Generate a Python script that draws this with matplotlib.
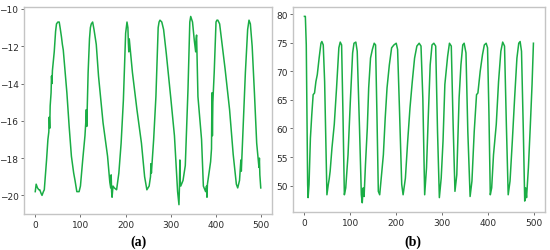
import numpy as np
import matplotlib
matplotlib.use("Agg")
import matplotlib.pyplot as plt

# (a) series, values
xa = [0, 2, 5, 8, 10, 13, 15, 18, 20, 25, 28, 30, 31, 32, 33, 35, 36, 37, 38, 42, 45, 47, 50, 53, 55, 58, 60, 62,
      70, 75, 80, 85, 88, 92, 97, 100, 105, 110, 112, 113, 114, 117, 120, 122, 124, 127, 130, 135, 140, 150, 160,
      165, 167, 168, 169, 170, 172, 175, 180, 185, 190, 195, 200, 203, 205, 206, 207, 208, 215, 225, 235,
      242, 247, 252, 255, 256, 257, 262, 267, 272, 274, 276, 280, 284, 290, 300, 308, 315, 318, 319, 320, 321,
      322, 327, 332, 338, 342, 344, 348, 352, 355, 356, 357, 358, 360, 368, 372, 377, 379, 380, 381, 384,
      388, 390, 391, 392, 393, 396, 400, 402, 404, 408, 412, 420, 430, 438, 445, 448, 452, 454, 455, 456, 460,
      465, 470, 473, 476, 480, 485, 490, 495, 496, 497, 499]
ya = [-19.8, -19.4, -19.6, -19.7, -19.7, -19.9, -20.0, -19.8, -19.7, -18.1, -17.0, -16.6, -15.8, -16.4, -15.2,
      -14.5, -13.6, -14.0, -13.3, -12.3, -11.2, -10.8, -10.7, -10.7, -11.0, -11.5, -11.9, -12.2,
      -14.5, -16.3, -17.9, -18.8, -19.2, -19.8, -19.8, -19.5, -18.1, -16.8, -16.0, -15.4, -16.3, -13.4,
      -11.6, -11.0, -10.8, -10.7, -11.1, -11.9, -13.6, -16.1, -17.9,
      -19.3, -19.6, -18.9, -19.8, -20.1, -19.5, -19.6, -19.7, -18.8, -17.2, -14.9, -11.3, -10.7, -11.0,
      -11.8, -12.3, -11.6, -13.4, -15.4, -17.2,
      -19.0, -19.7, -19.5, -19.0, -18.3, -18.8, -17.0, -14.7, -11.0, -10.7, -10.6, -10.7, -11.1, -12.4, -14.8,
      -16.8, -19.8, -20.5, -19.6, -18.1, -19.3,
      -19.5, -19.2, -18.4, -14.3, -10.7, -10.4, -10.7, -11.7, -12.3, -11.6, -11.4, -12.5, -14.7, -17.0,
      -19.5, -19.8, -19.5, -20.1, -19.4, -18.9,
      -18.2, -17.5, -14.5, -16.8, -15.0, -13.4, -10.7, -10.6, -10.6, -10.8, -11.6, -13.2, -15.4, -17.8, -19.4,
      -19.6, -19.2, -18.5, -18.1, -18.7, -16.4,
      -13.4, -11.1, -10.6, -10.8, -12.0, -14.5, -17.2, -18.5, -18.0, -18.9, -19.6]

# (b) series
xb = [0, 2, 4, 7, 8, 10, 13, 16, 19, 22, 25, 28, 32, 36, 38, 41, 44, 47, 49, 52, 54, 56, 60, 65, 70, 75, 78,
      81, 84, 87, 90, 95, 100, 105, 108, 112, 115, 120, 124, 126, 128, 130, 133, 137, 140, 144, 148, 152,
      155, 158, 161, 164, 168, 172, 176, 180, 185, 190, 195, 200, 203, 207, 212, 215, 220, 225, 230, 235,
      240, 245, 250, 254, 258, 262, 266, 270, 274, 278, 282, 286, 290, 294, 298, 302, 306, 312, 316, 320,
      324, 328, 332, 337, 341, 345, 348, 352, 356, 361, 365, 370, 375, 378, 383, 388, 392, 396, 399, 402,
      405, 408, 412, 418, 423, 428, 432, 436, 440, 444, 448, 453, 458, 463, 467, 470, 473, 477, 480, 482,
      484, 488, 492, 496, 499]
yb = [79.6, 79.6, 74.6, 50.2, 47.9, 50.2, 58.3, 62.4, 65.9, 66.2, 68.2, 69.4, 72.3, 74.9, 75.2,
      74.6, 68.2, 56.6, 48.4, 50.2, 51.2, 52.5, 56.6, 60.7, 67.1, 74.1, 75.1,
      74.6, 62.4, 48.4, 49.6, 55.4, 64.7, 73.2, 74.9, 75.1, 73.5, 60.1, 48.4, 47.0, 49.6, 48.1, 53.7, 60.1,
      67.1, 72.3, 73.8, 74.9,
      74.6, 62.4, 49.0, 48.4, 51.9, 55.4, 61.8, 67.1, 71.1, 74.1, 74.6, 74.9, 73.8, 63.6, 50.2, 48.4, 51.3,
      57.8, 63.6, 68.2,
      72.3, 74.4, 74.9, 74.4, 65.3, 48.4, 53.1, 62.4, 71.1, 74.6, 74.9, 74.4, 59.5, 47.9, 51.3, 57.8, 67.7,
      72.6, 74.9, 74.4,
      60.7, 49.0, 51.9, 65.3, 71.1, 74.6, 74.9, 73.2, 59.5, 48.1, 50.8, 59.5, 65.9, 66.2, 70.0, 72.9, 74.6,
      74.9, 74.1, 62.8,
      48.4, 49.6, 55.4, 60.7, 68.2, 73.5, 75.1, 74.4, 60.7, 48.4, 50.8, 57.8, 65.3, 72.3, 74.9, 75.2, 73.5,
      59.5, 47.3, 49.6,
      47.9, 53.1, 60.1, 67.7, 74.9]

xticks = [0, 100, 200, 300, 400, 500]
yticks_a = [-20, -18, -16, -14, -12, -10]
yticks_b = [50, 55, 60, 65, 70, 75, 80]

green = "#1aad45"
frame = "#c4c4c4"

fig = plt.figure(figsize=(5.5, 2.51), dpi=100)
ax1 = fig.add_axes([0.0436, 0.143, 0.451, 0.825])
ax2 = fig.add_axes([0.5327, 0.151, 0.458, 0.817])

for ax, x, y, yt in [(ax1, xa, ya, yticks_a), (ax2, xb, yb, yticks_b)]:
    ax.plot(x, y, color=green, lw=1.1)
    ax.set_xticks(xticks)
    ax.set_yticks(yt)
    ax.tick_params(labelsize=6.5, length=2, width=0.6, color="#555555", labelcolor="#2a2a2a", pad=2)
    for s in ax.spines.values():
        s.set_color(frame)
        s.set_linewidth(1.0)

ax1.set_yticklabels([f"\u2212{abs(v)}" for v in yticks_a])

fig.text(0.251, 0.035, "(a)", ha="center", va="center", fontsize=10,
         family="Liberation Serif", fontweight="bold")
fig.text(0.751, 0.035, "(b)", ha="center", va="center", fontsize=10,
         family="Liberation Serif", fontweight="bold")

fig.savefig("out.png", dpi=100)
